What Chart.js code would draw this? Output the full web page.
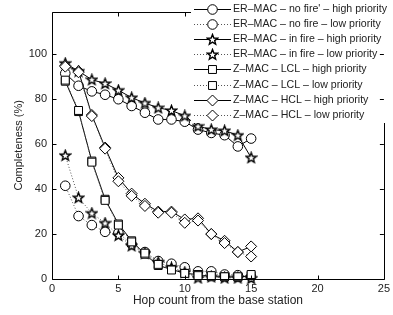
<!DOCTYPE html>
<html>
<head>
<meta charset="utf-8">
<script src="https://cdn.jsdelivr.net/npm/chart.js@4.4.1/dist/chart.umd.min.js"></script>
<style>
  html, body { margin: 0; padding: 0; background: #fff; }
  #wrap { width: 393px; height: 315px; }
</style>
</head>
<body>
<div id="wrap"><canvas id="myChart" width="393" height="315"></canvas></div>
<script>
// hop count 1..15
const hops = [1, 2, 3, 4, 5, 6, 7, 8, 9, 10, 11, 12, 13, 14, 15];

const seriesNames = [
    "ER\u2013MAC \u2013 no fire' \u2013 high priority",
    'ER\u2013MAC \u2013 no fire \u2013 low priority',
    'ER\u2013MAC \u2013 in fire \u2013 high priority',
    'ER\u2013MAC \u2013 in fire \u2013 low priority',
    'Z\u2013MAC \u2013 LCL \u2013 high priority',
    'Z\u2013MAC \u2013 LCL \u2013 low priority',
    'Z\u2013MAC \u2013 HCL \u2013 high priority',
    'Z\u2013MAC \u2013 HCL \u2013 low priority'
];

// completeness (%) per hop
const erNoFireHigh = [91.5, 86, 83.5, 82, 80, 77, 74, 71, 71, 70, 66.5, 65, 64, 59, 62.5];
const erNoFireLow  = [41.5, 28, 24, 21, 20.5, 15.5, 12, 8, 6.8, 5.2, 3.4, 3.4, 2, 1.7, 1];
const erInFireHigh = [96, 92.5, 88.7, 87, 84, 80.7, 78.3, 76.2, 75, 72.6, 68, 66.5, 66, 64, 54];
const erInFireLow  = [55, 36.2, 29.3, 24.9, 19.4, 14.8, 11.5, 7.5, 5, 3, 0.5, 1, 0.5, 0.5, 0.3];
const zLclHigh     = [88, 74.5, 52.5, 35.5, 24.5, 17, 11, 6, 4.3, 2.5, 2, 1, 1, 0.8, 1.5];
const zLclLow      = [88.5, 75, 52, 35, 24, 16.5, 11.5, 6.5, 4, 2.5, 1.5, 1.5, 1, 1, 2];
const zHclHigh     = [95, 92.5, 73, 58.5, 45, 38, 33.5, 30, 30, 26.5, 27, 20, 17, 12, 14.5];
const zHclLow      = [94.5, 92, 72.5, 58, 43.5, 37, 32.5, 29.5, 29.5, 25, 26, 20, 16, 12, 10];

const xTicks = [0, 5, 10, 15, 20, 25];
const yTicks = [0, 20, 40, 60, 80, 100];

// pentagram marker (chart.js 'star' is an asterisk)
function makeStar() {
    const c = document.createElement('canvas');
    c.width = 13; c.height = 13;
    const g = c.getContext('2d');
    g.beginPath();
    for (let k = 0; k < 10; k++) {
        const r = k % 2 === 0 ? 5.4 : 2.3;
        const a = -Math.PI / 2 + k * Math.PI / 5;
        const px = 6.5 + r * Math.cos(a), py = 6.9 + r * Math.sin(a);
        if (k === 0) g.moveTo(px, py); else g.lineTo(px, py);
    }
    g.closePath();
    g.fillStyle = '#fff';
    g.fill();
    g.lineWidth = 1.4;
    g.lineJoin = 'miter';
    g.strokeStyle = '#000';
    g.stroke();
    return c;
}
const starImg = makeStar();

function series(i, values, marker, radius, dotted) {
    return {
        label: seriesNames[i],
        data: hops.map((h, k) => ({ x: h, y: values[k] })),
        borderColor: dotted ? '#555' : '#000',
        borderWidth: 1,
        borderDash: dotted ? [1, 2] : [],
        pointStyle: marker,
        pointRadius: radius,
        pointBorderColor: '#000',
        pointBackgroundColor: '#fff',
        pointBorderWidth: 1,
        fill: false,
        tension: 0,
        clip: false,
        order: -i
    };
}

const datasets = [
    series(0, erNoFireHigh, 'circle', 4.8, false),
    series(1, erNoFireLow, 'circle', 4.8, true),
    series(2, erInFireHigh, starImg, 5, false),
    series(3, erInFireLow, starImg, 5, true),
    series(4, zLclHigh, 'rect', 5.6, false),
    series(5, zLclLow, 'rect', 5.6, true),
    series(6, zHclHigh, 'rectRot', 5.5, false),
    series(7, zHclLow, 'rectRot', 5.5, true)
];

function drawRightTicks(chart) {
    const ctx = chart.ctx, a = chart.chartArea, ys = chart.scales.y;
    ctx.save();
    ctx.strokeStyle = '#000';
    ctx.lineWidth = 1;
    ctx.beginPath();
    yTicks.forEach(v => {
        const py = Math.round(ys.getPixelForValue(v)) + 0.5;
        ctx.moveTo(a.right, py); ctx.lineTo(a.right - 4, py);
    });
    ctx.stroke();
    ctx.restore();
}

// matlab-like frame with inward ticks
const framePlugin = {
    id: 'frame',
    afterDatasetsDraw(chart) {
        const ctx = chart.ctx, a = chart.chartArea;
        const xs = chart.scales.x, ys = chart.scales.y;
        ctx.save();
        ctx.strokeStyle = '#000';
        ctx.lineWidth = 1;
        ctx.beginPath();
        const L = Math.round(a.left) + 0.5, R = Math.round(a.right) + 0.5;
        const T = Math.round(a.top) + 0.5, B = Math.round(a.bottom) + 0.5;
        ctx.moveTo(L, T); ctx.lineTo(R, T); ctx.lineTo(R, B); ctx.lineTo(L, B); ctx.closePath();
        xTicks.forEach(v => {
            const px = Math.round(xs.getPixelForValue(v)) + 0.5;
            ctx.moveTo(px, B); ctx.lineTo(px, B - 4);
            ctx.moveTo(px, T); ctx.lineTo(px, T + 4);
        });
        yTicks.forEach(v => {
            const py = Math.round(ys.getPixelForValue(v)) + 0.5;
            ctx.moveTo(L, py); ctx.lineTo(L + 4, py);
        });
        ctx.stroke();
        ctx.restore();
    }
};

// legend box in the upper right corner
const legendPlugin = {
    id: 'legendBox',
    afterDatasetsDraw(chart) {
        const ctx = chart.ctx;
        ctx.save();
        ctx.fillStyle = '#fff';
        ctx.fillRect(191, 0, 202, 123);
        chart.data.datasets.forEach((ds, i) => {
            const y = Math.round(8.5 + i * 15.2) + 0.5;
            ctx.strokeStyle = ds.borderColor;
            ctx.lineWidth = 1;
            ctx.setLineDash(ds.borderDash);
            ctx.beginPath();
            ctx.moveTo(194, y); ctx.lineTo(231, y);
            ctx.stroke();
            ctx.setLineDash([]);
            ctx.strokeStyle = '#000';
            ctx.fillStyle = '#fff';
            Chart.helpers.drawPoint(ctx, {
                pointStyle: ds.pointStyle,
                radius: ds.pointRadius,
                borderWidth: 1,
                rotation: 0
            }, 212.5, y);
            ctx.fillStyle = '#222';
            ctx.font = '10.6px "Liberation Sans", Arial, sans-serif';
            ctx.textBaseline = 'middle';
            ctx.textAlign = 'left';
            ctx.fillText(ds.label, 233, y);
        });
        ctx.restore();
        drawRightTicks(chart);
    }
};

const ctx = document.getElementById('myChart').getContext('2d');
const myChart = new Chart(ctx, {
    type: 'line',
    data: { datasets: datasets },
    options: {
        responsive: false,
        animation: false,
        layout: { padding: { top: 5, right: 7, left: 0, bottom: 0 } },
        plugins: {
            legend: { display: false },
            tooltip: { enabled: false }
        },
        scales: {
            x: {
                type: 'linear',
                min: 0,
                max: 25,
                afterBuildTicks: scale => { scale.ticks = xTicks.map(v => ({ value: v })); },
                afterFit: scale => { scale.height = 36; },
                grid: { display: false, drawTicks: false },
                border: { display: false },
                ticks: {
                    padding: 3,
                    maxRotation: 0,
                    color: '#222',
                    font: { family: '"Liberation Sans", Arial, sans-serif', size: 11 }
                },
                title: {
                    display: true,
                    text: 'Hop count from the base station',
                    color: '#222',
                    padding: { top: 0, bottom: 7 },
                    font: { family: '"Liberation Sans", Arial, sans-serif', size: 12 }
                }
            },
            y: {
                type: 'linear',
                min: 0,
                max: 119,
                afterBuildTicks: scale => { scale.ticks = yTicks.map(v => ({ value: v })); },
                afterFit: scale => { scale.width = 52; },
                grid: { display: false, drawTicks: false },
                border: { display: false },
                ticks: {
                    padding: 5,
                    color: '#222',
                    font: { family: '"Liberation Sans", Arial, sans-serif', size: 11 }
                },
                title: {
                    display: true,
                    text: 'Completeness (%)',
                    color: '#222',
                    padding: { top: 12, bottom: 0 },
                    font: { family: '"Liberation Sans", Arial, sans-serif', size: 11 }
                }
            }
        }
    },
    plugins: [framePlugin, legendPlugin]
});
</script>
</body>
</html>
